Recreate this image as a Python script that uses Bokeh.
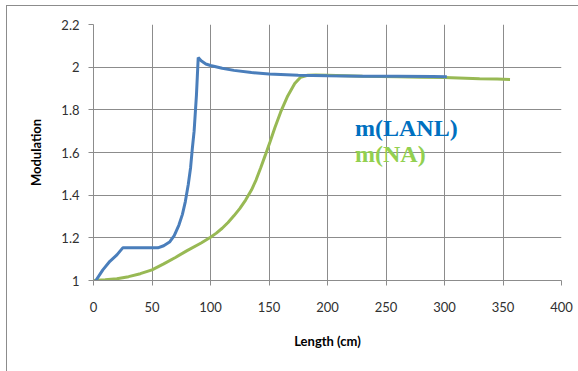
from bokeh.plotting import figure
from bokeh.models import Label, FixedTicker
from bokeh.embed import file_html
from bokeh.resources import INLINE

# ---- data ----
lanl_x = [2, 8, 14, 20, 25, 35, 45, 55, 60, 65, 69, 73, 76, 78.5, 81, 83, 84.5, 86, 88,
          89.5, 92, 96, 100, 110, 120, 135, 150, 175, 200, 230, 260, 290, 302]
lanl_y = [1.0, 1.05, 1.09, 1.12, 1.153, 1.153, 1.153, 1.153, 1.163, 1.18, 1.21, 1.26, 1.31,
          1.37, 1.45, 1.53, 1.62, 1.70, 1.87, 2.045, 2.03, 2.015, 2.008, 1.995, 1.985, 1.975,
          1.968, 1.962, 1.96, 1.958, 1.957, 1.956, 1.955]

na_x = [0, 10, 20, 30, 40, 50, 60, 70, 80, 92, 100, 105, 110, 115, 120, 125, 130, 135, 139,
        143, 147, 151, 155, 160, 166, 172, 177, 183, 190, 200, 230, 260, 280, 300, 330, 345, 356]
na_y = [1.0, 1.003, 1.008, 1.018, 1.032, 1.05, 1.078, 1.108, 1.14, 1.176, 1.203, 1.222,
        1.245, 1.272, 1.303, 1.337, 1.377, 1.424, 1.472, 1.53, 1.59, 1.652, 1.716, 1.79,
        1.865, 1.923, 1.953, 1.962, 1.963, 1.962, 1.958, 1.955, 1.953, 1.952, 1.946, 1.944, 1.942]

x_ticks = [0, 50, 100, 150, 200, 250, 300, 350, 400]
y_ticks = [1.0, 1.2, 1.4, 1.6, 1.8, 2.0, 2.2]
y_tick_labels = ["1", "1.2", "1.4", "1.6", "1.8", "2", "2.2"]
series_labels = ["m(LANL)", "m(NA)"]
x_title = "Length (cm)"
y_title = "Modulation"

# ---- figure ----
p = figure(width=572, height=366, x_range=(0, 400), y_range=(1.0, 2.2),
           output_backend="svg", toolbar_location=None,
           min_border_left=86, min_border_right=18, min_border_top=18, min_border_bottom=92)
p.margin = (5, 0, 0, 6)
p.styles = {"border-top": "1px solid #8c8c8c", "border-left": "1px solid #8c8c8c"}
p.background_fill_color = "white"
p.border_fill_color = "white"
p.outline_line_color = None

GRID = "#8c8c8c"
for ax in (p.xaxis[0], p.yaxis[0]):
    ax.axis_line_color = GRID
    ax.major_tick_line_color = GRID
    ax.major_tick_out = 5
    ax.major_tick_in = 0
    ax.minor_tick_line_color = None
    ax.major_label_text_font = "Lato"
    ax.major_label_text_font_size = "13px"
    ax.major_label_text_color = "#303030"
    ax.axis_label_text_font = "Lato"
    ax.axis_label_text_font_style = "bold"
    ax.axis_label_text_font_size = "13px"
    ax.axis_label_text_color = "#000000"

p.xaxis.ticker = FixedTicker(ticks=x_ticks)
p.yaxis.ticker = FixedTicker(ticks=y_ticks)
p.yaxis.major_label_overrides = {t: l for t, l in zip(y_ticks, y_tick_labels)}
p.xaxis.major_label_standoff = 16
p.yaxis.major_label_standoff = 9
p.xaxis.axis_label = x_title
p.yaxis.axis_label = y_title
p.xaxis.axis_label_standoff = 18
p.yaxis.axis_label_standoff = 14

p.xgrid.grid_line_color = GRID
p.ygrid.grid_line_color = GRID
p.xgrid.ticker = FixedTicker(ticks=x_ticks)
p.ygrid.ticker = FixedTicker(ticks=y_ticks)

p.line(na_x, na_y, line_color="#98B954", line_width=3)
p.line(lanl_x, lanl_y, line_color="#4A7EBB", line_width=3)

p.add_layout(Label(x=223.5, y=1.715, text=series_labels[0], text_font="Liberation Serif",
                   text_font_style="bold", text_font_size="24px", text_color="#0070C0",
                   text_baseline="alphabetic"))
p.add_layout(Label(x=223.5, y=1.592, text=series_labels[1], text_font="Liberation Serif",
                   text_font_style="bold", text_font_size="24px", text_color="#92D050",
                   text_baseline="alphabetic"))

open("out.html", "w").write(file_html(p, INLINE))
